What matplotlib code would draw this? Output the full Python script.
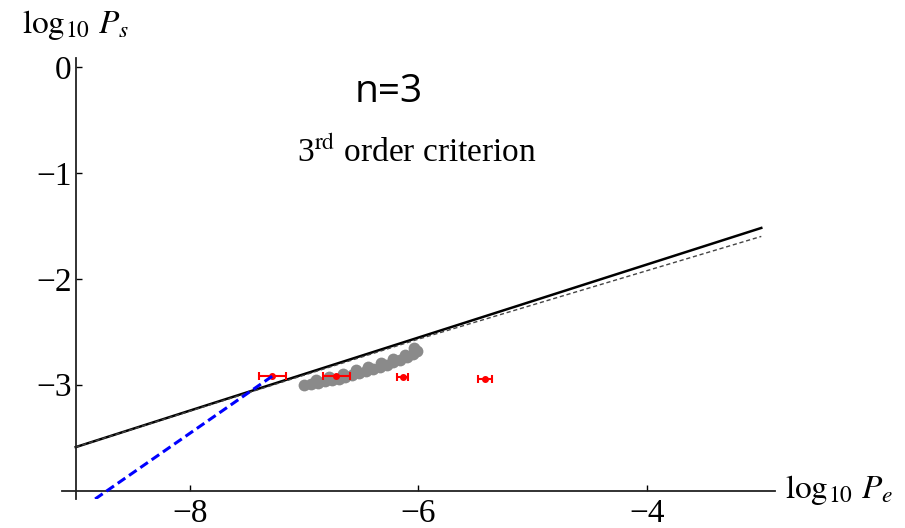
import numpy as np
import matplotlib
matplotlib.use('Agg')
import matplotlib.pyplot as plt

plt.rcParams['mathtext.fontset'] = 'stix'
plt.rcParams['font.family'] = ['Liberation Serif', 'DejaVu Serif']

# criterion lines (log10 Pe, log10 Ps)
solid_x = [-9.0, -3.0]
solid_y = [-3.59, -1.52]
dash_x = [-9.0, -6.0, -3.0]
dash_y = [-3.59, -2.57, -1.60]

# blue dashed fit
blue_x = [-8.83, -7.28]
blue_y = [-4.08, -2.92]

# gray simulation points
gray_x = [-7.00, -6.94, -6.88, -6.82, -6.76, -6.70, -6.64, -6.58, -6.52,
          -6.46, -6.40, -6.34, -6.28, -6.22, -6.16, -6.10, -6.05, -6.01,
          -6.90, -6.78, -6.66, -6.55, -6.44, -6.33, -6.22, -6.12, -6.04]
gray_y = [-3.00, -2.99, -2.98, -2.97, -2.96, -2.95, -2.93, -2.91, -2.89,
          -2.87, -2.85, -2.83, -2.81, -2.79, -2.77, -2.74, -2.71, -2.68,
          -2.96, -2.93, -2.90, -2.86, -2.83, -2.80, -2.76, -2.72, -2.65]

# red measured points with x error
red_x = [-7.28, -6.72, -6.14, -5.42]
red_y = [-2.92, -2.92, -2.93, -2.95]
red_xerr = [0.12, 0.12, 0.045, 0.06]

fig = plt.figure(figsize=(9.05, 5.28), dpi=100)
ax = fig.add_axes([62/905, 1 - 499/528, (775 - 62)/905, (499 - 58)/528])

ax.plot(solid_x, solid_y, color='black', lw=1.8)
ax.plot(dash_x, dash_y, color='#444444', lw=1.0, ls=(0, (3, 2)))
ax.plot(gray_x, gray_y, 'o', color='#8a8a8a', ms=8.5, mec='none', zorder=3)
ax.errorbar(red_x, red_y, xerr=red_xerr, fmt='o', color='red', ms=4,
            capsize=3, elinewidth=1.5, capthick=1.5, zorder=4)
ax.plot(blue_x, blue_y, color='blue', lw=2.2, ls=(0, (3, 1.5)), zorder=5)

ax.set_xlim(-9.12, -2.88)
ax.set_ylim(-4.08, 0.085)
ax.spines['top'].set_visible(False)
ax.spines['right'].set_visible(False)
ax.spines['left'].set_position(('data', -9))
ax.spines['bottom'].set_position(('data', -4))
for s in ['left', 'bottom']:
    ax.spines[s].set_linewidth(1.3)
    ax.spines[s].set_color('#222222')

ax.set_xticks([-8, -6, -4])
ax.set_yticks([0, -1, -2, -3])
ax.tick_params(direction='in', length=4, width=1.0, labelsize=24)
ax.tick_params(axis='x', pad=6)
ax.tick_params(axis='y', pad=3)

fig.text(22/905, 1 - 25/528, r'$\log_{10}\,P_s$', fontsize=24, va='center', ha='left')
fig.text(785/905, 1 - 490/528, r'$\log_{10}\,P_e$', fontsize=24, va='center', ha='left')

fig.text(389/905, 1 - 92/528, 'n=3', fontsize=28, family='Open Sans',
         ha='center', va='center')
fig.text(417/905, 1 - 152/528, r'3$^{\rm rd}$ order criterion', fontsize=24,
         ha='center', va='center')

fig.savefig('out.png', dpi=100)
